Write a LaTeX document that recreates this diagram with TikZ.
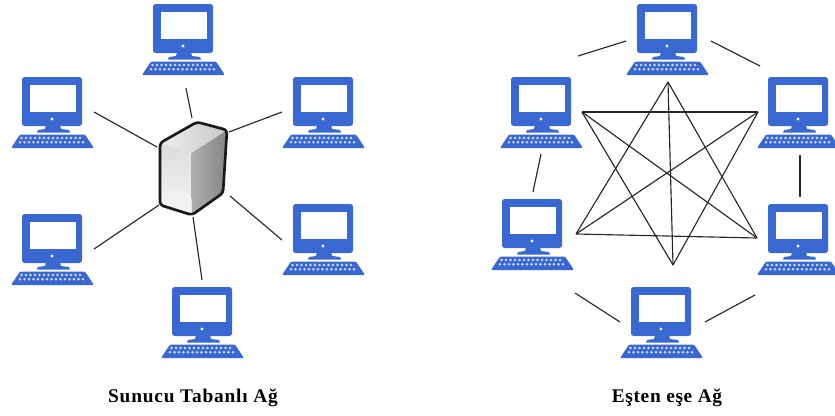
\documentclass[tikz,border=0pt]{standalone}
\usepackage{fontspec}
\setmainfont{Liberation Serif}
\usetikzlibrary{shadings}
\definecolor{pcblue}{HTML}{3A68D3}
\tikzset{
  x=0.75pt,y=-0.75pt,
  link/.style={draw=black!85,line width=0.85pt},
  starlink/.style={draw=black!85,line width=0.85pt},
  caption/.style={font=\bfseries\fontsize{14.5}{17}\selectfont,inner sep=0pt,text=black},
  pcbox/.style={inner sep=0pt,minimum width=62.5pt,minimum height=54pt,draw=none},
  pics/pcicon/.style={code={
    % origin: top left of the icon, 84 x 75 px
    \fill[pcblue,rounded corners=2pt] (11,4) rectangle (71,53);
    \fill[white] (19,12) rectangle (65,39);
    \fill[white] (41,46) circle (1.7);
    \fill[pcblue] (35,52) -- (49,52) -- (50,56) -- (58,57) -- (59,59.5) -- (26,59.5) -- (27,57) -- (34,56) -- cycle;
    \fill[pcblue,rounded corners=1pt] (9,61.5) -- (74,61.5) -- (83,75) -- (0,75) -- cycle;
    \foreach \k in {0,...,13}{
      \fill[white!78!pcblue] ({10.5+4.5*\k},65) circle (1.35);
    }
    \foreach \k in {0,...,14}{
      \fill[white!78!pcblue] ({9+4.5*\k},69.2) circle (1.35);
    }
  }}
}
\begin{document}
\begin{tikzpicture}
\useasboundingbox (0,0) rectangle (835,415);
\foreach \nm/\x/\y in {a1/142/0,a2/11/73,a3/282/73,a4/11/210,a5/282/200,a6/161/283,
                       b1/626/0,b2/500/73,b3/757/73,b4/491/195,b5/757/200,b6/620/283}{
  \node[pcbox] (\nm) at ({\x+41.5},{\y+39}) {};
  \pic at (\x,\y) {pcicon};
}
% server
\node[inner sep=0pt,minimum width=50pt,minimum height=70pt] (srv) at (193,168) {};
\begin{scope}
  \clip (160,143) -- (191,153) -- (192,215) -- (160,205) -- cycle;
  \shade[top color=black!14,bottom color=black!3] (158,140) rectangle (195,217);
\end{scope}
\begin{scope}
  \clip (191,153) -- (227,130) -- (223,193) -- (192,215) -- cycle;
  \shade[shading=axis,shading angle=55,left color=black!20,right color=black!58] (165,120) rectangle (250,225);
\end{scope}
\begin{scope}
  \clip (160,143) -- (197,122) -- (227,130) -- (191,153) -- cycle;
  \shade[left color=black!6,right color=black!22] (160,120) rectangle (227,155);
\end{scope}
\draw[yellow!60!black!40,line width=0.5pt] (171,158) -- (176,160);
\draw[black!90,line width=2pt,line join=round,rounded corners=2.5pt] (160,143) -- (197,122) -- (227,130) -- (223,193) -- (192,215) -- (160,205) -- cycle;
% left connectors
\coordinate (p1) at (186,88);  \coordinate (s1) at (192,118);
\coordinate (p2) at (94,112);  \coordinate (s2) at (157,147);
\coordinate (p3) at (282,112); \coordinate (s3) at (229,132);
\coordinate (p4) at (94,249);  \coordinate (s4) at (159,205);
\coordinate (p5) at (282,240); \coordinate (s5) at (230,196);
\coordinate (p6) at (202,280); \coordinate (s6) at (193,217);
\foreach \i in {1,...,6}{ \draw[link] (p\i) -- (s\i); }
% ring connectors
\coordinate (r1a) at (578,56);  \coordinate (r1b) at (626,41);
\coordinate (r2a) at (711,41);  \coordinate (r2b) at (760,66);
\coordinate (r3a) at (800,155); \coordinate (r3b) at (800,197);
\coordinate (r4a) at (755,295); \coordinate (r4b) at (705,322);
\coordinate (r5a) at (620,322); \coordinate (r5b) at (575,293);
\coordinate (r6a) at (533,192); \coordinate (r6b) at (541,154);
\foreach \i in {1,...,6}{ \draw[link] (r\i a) -- (r\i b); }
% star
\coordinate (T) at (668,82);
\coordinate (UL) at (582,112);
\coordinate (UR) at (758,112);
\coordinate (LL) at (576,234);
\coordinate (LR) at (757,238);
\coordinate (B) at (673,265);
\foreach \u/\v in {T/LL,T/LR,T/B,UL/UR,UL/LR,UL/B,UR/LL,UR/B,LL/LR}{
  \draw[starlink] (\u) -- (\v);
}
\node[caption] (cap1) at (193,398) {\addfontfeature{LetterSpace=4.2}Sunucu Tabanlı Ağ};
\node[caption] (cap2) at (667,398) {\addfontfeature{LetterSpace=3.5}Eşten eşe Ağ};
\end{tikzpicture}
\end{document}
